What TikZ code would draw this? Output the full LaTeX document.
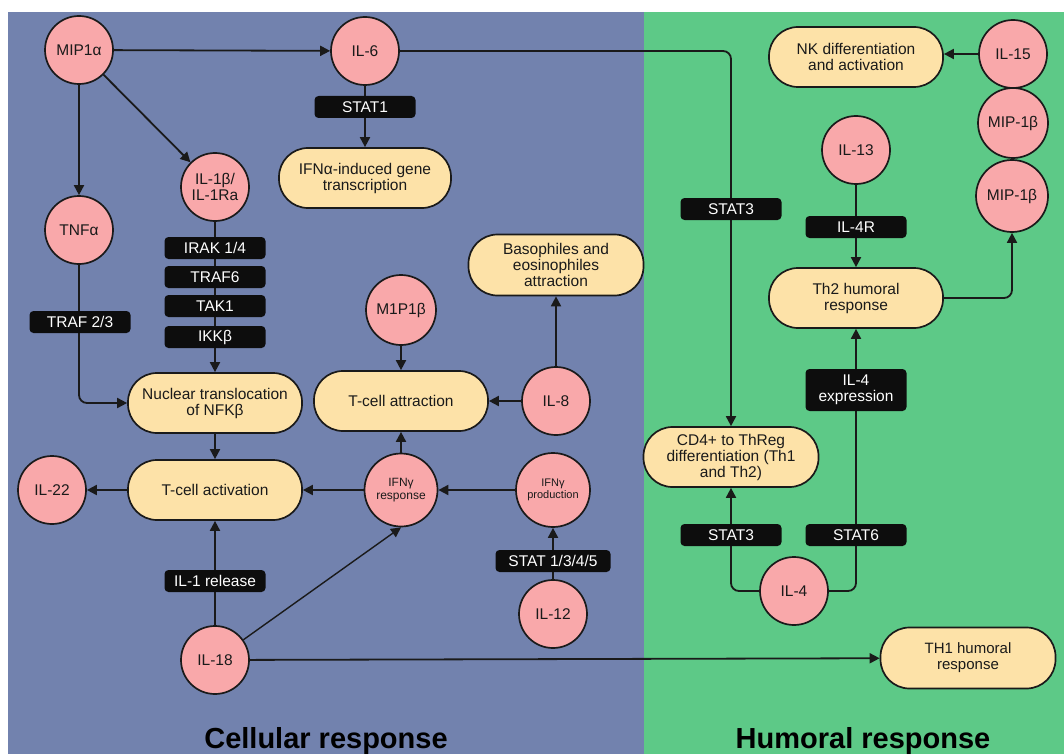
\documentclass[tikz,border=0pt]{standalone}
\usepackage{fontspec}
\setmainfont{Liberation Sans}
\usetikzlibrary{arrows.meta}
\definecolor{cellbg}{RGB}{114,130,174}
\definecolor{humbg}{RGB}{93,201,135}
\definecolor{pinkc}{RGB}{249,168,170}
\definecolor{yelb}{RGB}{253,226,168}
\definecolor{labk}{RGB}{13,13,13}
\definecolor{inkc}{RGB}{26,26,26}
\pgfdeclarelayer{bg}
\pgfdeclarelayer{edges}
\pgfsetlayers{bg,edges,main}
\begin{document}
\begin{tikzpicture}[x=1pt,y=-1pt,
  cyto/.style={circle,draw=inkc,line width=1.7pt,fill=pinkc,minimum size=68pt,inner sep=0pt,align=center,font=\fontsize{15.5}{16}\selectfont,text=inkc},
  proc/.style={rectangle,rounded corners=29pt,draw=inkc,line width=1.7pt,fill=yelb,minimum width=174pt,minimum height=60pt,inner sep=0pt,align=center,font=\fontsize{15.5}{16}\selectfont,text=inkc},
  tag/.style={rectangle,rounded corners=4pt,fill=labk,text=white,minimum width=101pt,minimum height=22pt,inner sep=0pt,align=center,font=\fontsize{15.5}{16}\selectfont},
  arr/.style={draw=inkc,line width=1.8pt,-{Triangle[length=10pt,width=10pt]}},
  panel/.style={font=\bfseries\fontsize{29}{30}\selectfont,text=black,anchor=base}
]
\useasboundingbox (0,0) rectangle (1064,754);
\begin{pgfonlayer}{bg}
\fill[white] (0,0) rectangle (1064,754);
\fill[cellbg] (8,12) rectangle (644,754);
\fill[humbg] (644,12) rectangle (1064,754);
\end{pgfonlayer}

% cellular side
\node[cyto] (mip) at (79,50) {MIP1α};
\node[cyto] (il6) at (365,51) {IL-6};
\node[tag] (stat1) at (365,107) {STAT1};
\node[proc,minimum width=172pt] (ifna) at (365,178) {IFNα-induced gene\\transcription};
\node[cyto] (tnf) at (79,230) {TNFα};
\node[cyto] (il1b) at (215,187) {IL-1β/\\IL-1Ra};
\node[tag] (irak) at (215,248) {IRAK 1/4};
\node[tag] (traf6) at (215,277) {TRAF6};
\node[tag] (tak1) at (215,306) {TAK1};
\node[tag] (ikk) at (215,337) {IKKβ};
\node[tag] (traf23) at (80,322) {TRAF 2/3};
\node[proc] (nuc) at (215,403) {Nuclear translocation\\of NFKβ};
\node[proc] (tact) at (215,490) {T-cell activation};
\node[cyto] (il22) at (52,490) {IL-22};
\node[tag] (il1rel) at (215,581) {IL-1 release};
\node[cyto] (il18) at (215,660) {IL-18};
\node[cyto,minimum size=70pt] (m1p) at (401,310) {M1P1β};
\node[proc] (tatt) at (401,401) {T-cell attraction};
\node[cyto] (il8) at (556,401) {IL-8};
\node[proc,minimum width=175pt,minimum height=61pt] (baso) at (556,265) {Basophiles and\\eosinophiles\\attraction};
\node[cyto,minimum size=73pt,font=\fontsize{12}{13}\selectfont] (ifnr) at (401,490) {IFNγ\\response};
\node[cyto,minimum size=74pt,font=\fontsize{11}{12}\selectfont] (ifnp) at (553,490) {IFNγ\\production};
\node[tag,minimum width=115pt] (stat1345) at (553,561) {STAT 1/3/4/5};
\node[cyto] (il12) at (553,614) {IL-12};

% humoral side
\node[proc] (nk) at (856,57) {NK differentiation\\and activation};
\node[cyto] (il15) at (1013,54) {IL-15};
\node[cyto,minimum size=70pt] (mipb1) at (1013,123) {MIP-1β};
\node[cyto,minimum size=72pt] (mipb2) at (1012,196) {MIP-1β};
\node[cyto] (il13) at (856,150) {IL-13};
\node[tag] (il4r) at (856,227) {IL-4R};
\node[proc] (th2) at (856,298) {Th2 humoral\\response};
\node[tag] (stat3a) at (731,209) {STAT3};
\node[proc,minimum width=175pt] (cd4) at (731,457) {CD4+ to ThReg\\differentiation (Th1\\and Th2)};
\node[tag,minimum height=42pt] (il4x) at (856,390) {IL-4\\expression};
\node[tag] (stat3b) at (731,535) {STAT3};
\node[tag] (stat6) at (856,535) {STAT6};
\node[cyto] (il4) at (794,591) {IL-4};
\node[proc,minimum width=175pt,minimum height=61pt,font=\fontsize{15}{16}\selectfont] (th1) at (968,658) {TH1 humoral\\response};

% panel titles
\node[panel] (tcell) at (326,748) {Cellular response};
\node[panel] (thum) at (863,748) {Humoral response};

\begin{pgfonlayer}{edges}
\draw[arr] (mip) -- (il6);
\draw[arr] (mip) -- (tnf);
\draw[arr] (mip) -- (il1b);
\draw[arr] (il6) -- (ifna);
\draw[arr,rounded corners=8pt] (il6) -- (il6 -| cd4) -- (cd4);
\draw[arr] (il1b) -- (nuc);
\draw[arr,rounded corners=8pt] (tnf) -- (tnf |- nuc) -- (nuc);
\draw[arr] (nuc) -- (tact);
\draw[arr] (tact) -- (il22);
\draw[arr] (ifnr) -- (tact);
\draw[arr] (ifnr) -- (tatt);
\draw[arr] (m1p) -- (tatt);
\draw[arr] (il8) -- (tatt);
\draw[arr] (il8) -- (baso);
\draw[arr] (ifnp) -- (ifnr);
\draw[arr] (il12) -- (ifnp);
\draw[arr] (il18) -- (tact);
\draw[arr,line width=1.4pt] (il18) -- (ifnr.south);
\draw[arr] (il18) -- (th1);
\draw[arr] (il15) -- (il15 -| nk.east);
\draw[arr] (il13) -- (th2);
\draw[arr,rounded corners=8pt] (th2) -- (th2 -| mipb2) -- (mipb2);
\draw[arr,rounded corners=8pt] (il4) -- (il4 -| cd4) -- (cd4);
\draw[arr,rounded corners=8pt] (il4) -- (il4 -| th2) -- (th2);
\end{pgfonlayer}
\end{tikzpicture}
\end{document}
